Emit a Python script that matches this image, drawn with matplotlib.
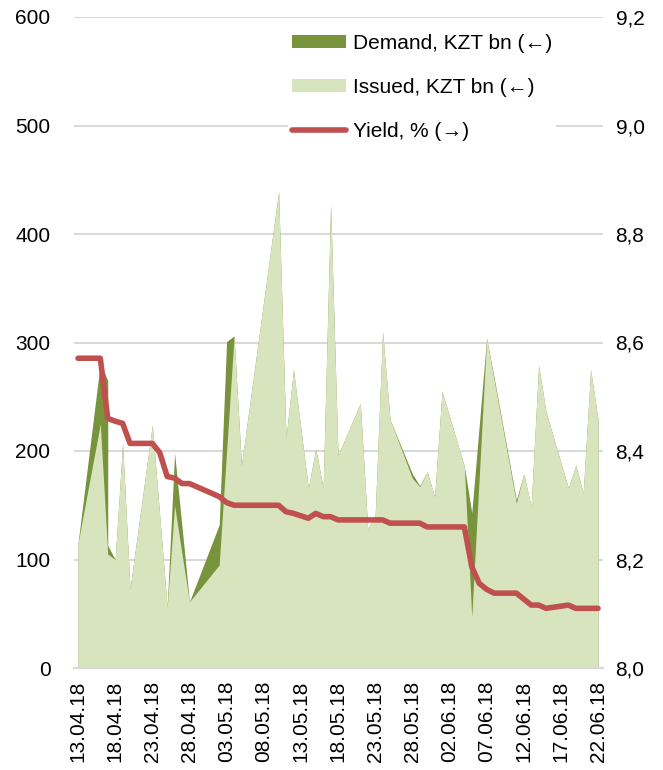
import pandas as pd
import matplotlib
matplotlib.use('Agg')
import matplotlib.pyplot as plt
import matplotlib.dates as mdates
from matplotlib.ticker import FuncFormatter

plt.rcParams['font.family'] = ['Liberation Sans', 'DejaVu Sans']
plt.rcParams['font.size'] = 15

dates = ['13.04.18', '16.04.18', '17.04.18', '17.04.18', '18.04.18', '19.04.18', '20.04.18',
         '23.04.18', '24.04.18', '25.04.18', '26.04.18', '27.04.18', '28.04.18',
         '02.05.18', '03.05.18', '04.05.18', '05.05.18', '10.05.18', '11.05.18', '12.05.18',
         '14.05.18', '15.05.18', '16.05.18', '17.05.18', '18.05.18', '21.05.18', '22.05.18',
         '23.05.18', '24.05.18', '25.05.18', '28.05.18', '29.05.18', '30.05.18', '31.05.18',
         '01.06.18', '04.06.18', '05.06.18', '06.06.18', '07.06.18', '08.06.18', '11.06.18',
         '12.06.18', '13.06.18', '14.06.18', '15.06.18', '18.06.18', '19.06.18', '20.06.18',
         '21.06.18', '22.06.18']

issued = [115, 225, 105, 105, 100, 207, 73,
          224, 140, 56, 150, 105, 61,
          95, 200, 305, 187, 439, 212, 275,
          166, 202, 166, 427, 196, 244, 128,
          141, 310, 229, 175, 167, 181, 158,
          255, 186, 47, 175, 304, 266, 152,
          179, 149, 279, 236, 166, 187, 161,
          275, 229]

demand = [115, 281, 265, 113, 100, 207, 73,
          224, 140, 56, 198, 130, 61,
          132, 301, 306, 187, 439, 212, 275,
          166, 202, 166, 427, 196, 244, 128,
          141, 310, 229, 179, 168, 181, 158,
          255, 186, 143, 223, 304, 268, 155,
          179, 149, 279, 236, 166, 187, 161,
          275, 229]

yield_pct = [8.571, 8.571, 8.460, 8.460, 8.455, 8.451, 8.414,
             8.414, 8.397, 8.353, 8.350, 8.340, 8.340,
             8.316, 8.305, 8.300, 8.300, 8.300, 8.288, 8.285,
             8.276, 8.285, 8.279, 8.279, 8.273, 8.273, 8.273,
             8.273, 8.273, 8.267, 8.267, 8.267, 8.260, 8.260,
             8.260, 8.260, 8.187, 8.156, 8.145, 8.138, 8.138,
             8.127, 8.116, 8.116, 8.110, 8.116, 8.110, 8.110,
             8.110, 8.110]

x = pd.to_datetime(dates, format='%d.%m.%y')

fig = plt.figure(figsize=(6.63, 7.7), dpi=100)
ax = fig.add_axes([74 / 663, 102 / 770, 529 / 663, 651 / 770])

ax.fill_between(x, 0, demand, color='#77933C', lw=0, label='Demand, KZT bn (←)')
ax.fill_between(x, 0, issued, color='#D7E4BD', lw=0, label='Issued, KZT bn (←)')

ax2 = ax.twinx()
ax2.plot(x, yield_pct, color='#C0504D', lw=4, solid_capstyle='round',
         solid_joinstyle='round', label='Yield, % (→)')

ax.set_ylim(0, 600)
ax.set_yticks(range(0, 601, 100))
ax2.set_ylim(8.0, 9.2)
ax2.set_yticks([8.0, 8.2, 8.4, 8.6, 8.8, 9.0, 9.2])
ax2.yaxis.set_major_formatter(FuncFormatter(lambda v, p: f'{v:.1f}'.replace('.', ',')))

ax.set_xlim(x[0] - pd.Timedelta(hours=13), x[-1] + pd.Timedelta(hours=16))
ticks = pd.date_range(x[0], x[-1], freq='5D')
ax.set_xticks(ticks)
ax.xaxis.set_major_formatter(mdates.DateFormatter('%d.%m.%y'))
plt.setp(ax.get_xticklabels(), rotation=90)

ax.yaxis.grid(True, color='#D9D9D9', lw=1.5)
ax.set_axisbelow(True)

for a in (ax, ax2):
    for s in ['top', 'left', 'right']:
        a.spines[s].set_visible(False)
    a.spines['bottom'].set_color('#D9D9D9')
    a.spines['bottom'].set_linewidth(1.5)

ax.tick_params(axis='y', length=0, pad=17)
ax.tick_params(axis='x', length=0, pad=9)
ax2.tick_params(axis='y', length=0, pad=9)

h1, l1 = ax.get_legend_handles_labels()
h2, l2 = ax2.get_legend_handles_labels()
fig.legend(h1 + h2, l1 + l2, loc='upper left', bbox_to_anchor=(288 / 663, 1 - 30 / 770),
           frameon=True, facecolor='white', edgecolor='none', framealpha=1,
           fontsize=15, handlelength=2.6, handleheight=0.6, labelspacing=1.2,
           handletextpad=0.3, borderpad=0.2, borderaxespad=0)

fig.savefig('out.png', dpi=100)
